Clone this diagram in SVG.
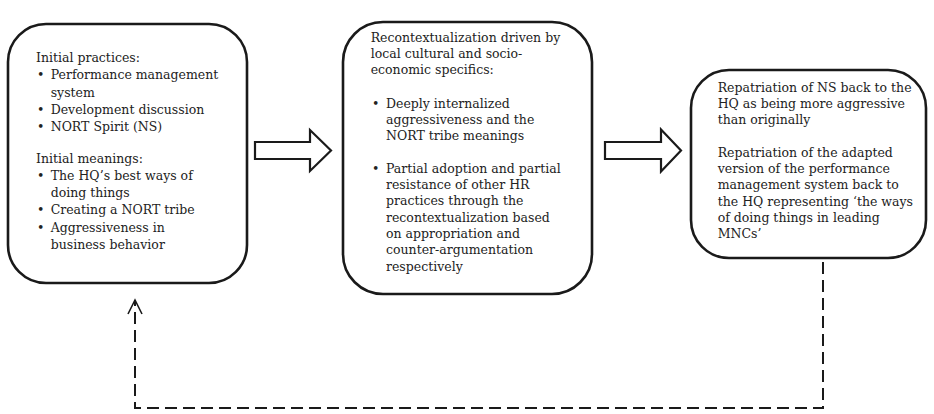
<svg xmlns="http://www.w3.org/2000/svg" width="934" height="414" viewBox="0 0 934 414">
<defs>
<style>
.box{fill:#fff;stroke:#1a1a1a;stroke-width:2.6}
.t{font-family:"DejaVu Serif","Liberation Serif",serif;font-size:12.5px;fill:#222}
.blk{fill:#fff;stroke:#1a1a1a;stroke-width:2.2;stroke-linejoin:miter}
.dash{fill:none;stroke:#1a1a1a;stroke-width:2;stroke-dasharray:12 6}
</style>
<marker id="open" markerWidth="18" markerHeight="18" refX="16" refY="8" orient="auto" markerUnits="userSpaceOnUse" viewBox="0 0 18 16">
<path d="M2,1 L16,8 L2,15" fill="none" stroke="#1a1a1a" stroke-width="1.6"/>
</marker>
</defs>
<rect width="934" height="414" fill="#fff"/>

<g id="node1">
<rect class="box" x="8" y="24" width="239" height="259" rx="38" ry="38"/>
<text class="t" x="36" y="62">Initial practices:</text>
<text class="t" x="37" y="79.3">•</text><text class="t" x="50.7" y="79.3">Performance management</text>
<text class="t" x="50.7" y="96.6">system</text>
<text class="t" x="37" y="113.9">•</text><text class="t" x="50.7" y="113.9">Development discussion</text>
<text class="t" x="37" y="131.2">•</text><text class="t" x="50.7" y="131.2">NORT Spirit (NS)</text>
<text class="t" x="36" y="162.5">Initial meanings:</text>
<text class="t" x="37" y="179.8">•</text><text class="t" x="50.7" y="179.8">The HQ’s best ways of</text>
<text class="t" x="50.7" y="197.1">doing things</text>
<text class="t" x="37" y="214.4">•</text><text class="t" x="50.7" y="214.4">Creating a NORT tribe</text>
<text class="t" x="37" y="231.7">•</text><text class="t" x="50.7" y="231.7">Aggressiveness in</text>
<text class="t" x="50.7" y="249">business behavior</text>
</g>

<g id="node2">
<rect class="box" x="343" y="22" width="249" height="272" rx="40" ry="40"/>
<text class="t" x="370.7" y="41.7">Recontextualization driven by</text>
<text class="t" x="370.7" y="58">local cultural and socio-</text>
<text class="t" x="370.7" y="74.3">economic specifics:</text>
<text class="t" x="372" y="107.7">•</text><text class="t" x="386" y="107.7">Deeply internalized</text>
<text class="t" x="386" y="124">aggressiveness and the</text>
<text class="t" x="386" y="140.2">NORT tribe meanings</text>
<text class="t" x="372" y="172.7">•</text><text class="t" x="386" y="172.7">Partial adoption and partial</text>
<text class="t" x="386" y="189">resistance of other HR</text>
<text class="t" x="386" y="205.3">practices through the</text>
<text class="t" x="386" y="221.6">recontextualization based</text>
<text class="t" x="386" y="237.9">on appropriation and</text>
<text class="t" x="386" y="254.2">counter-argumentation</text>
<text class="t" x="386" y="270.5">respectively</text>
</g>

<g id="node3">
<rect class="box" x="691" y="70" width="235" height="188" rx="38" ry="38"/>
<text class="t" x="717.7" y="91.7">Repatriation of NS back to the</text>
<text class="t" x="717.7" y="108">HQ as being more aggressive</text>
<text class="t" x="717.7" y="124.3">than originally</text>
<text class="t" x="717.7" y="156.8">Repatriation of the adapted</text>
<text class="t" x="717.7" y="173.1">version of the performance</text>
<text class="t" x="717.7" y="189.4">management system back to</text>
<text class="t" x="717.7" y="205.7">the HQ representing ‘the ways</text>
<text class="t" x="717.7" y="222">of doing things in leading</text>
<text class="t" x="717.7" y="238.3">MNCs’</text>
</g>

<g id="connectors">
<path class="blk" d="M255,142 L310,142 L310,130 L331,150.5 L310,171 L310,159 L255,159 Z"/>
<path class="blk" d="M605,142 L661,142 L661,129.5 L681,150.5 L661,171.5 L661,159 L605,159 Z"/>
<path class="dash" d="M823,262 L823,408 L135,408 L135,300" marker-end="url(#open)"/>
</g>
</svg>
